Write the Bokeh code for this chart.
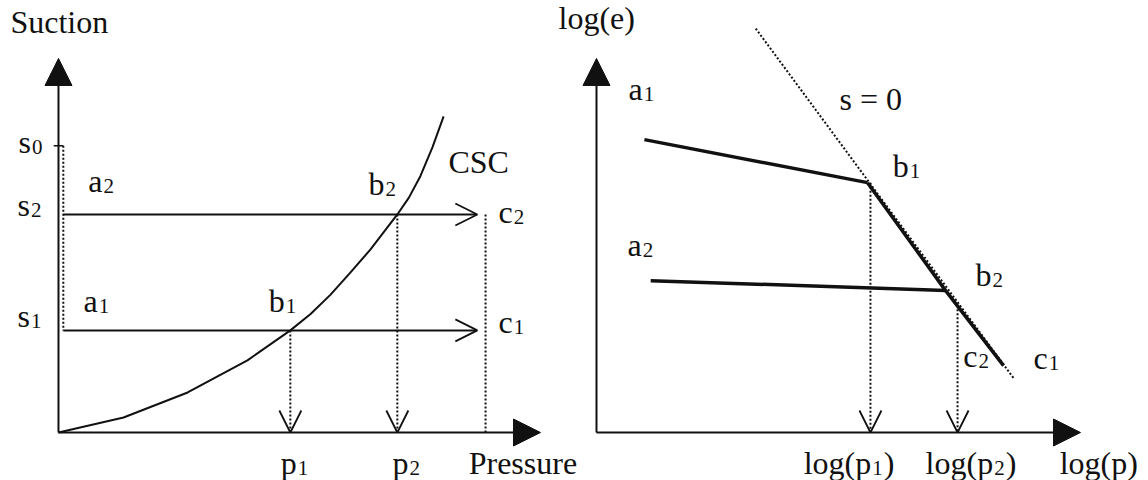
from bokeh.plotting import figure
from bokeh.models import Range1d, Arrow, NormalHead, OpenHead
from bokeh.core.properties import value
from bokeh.embed import file_html
from bokeh.resources import INLINE

FONT = "Liberation Serif"
INK = "#111111"
DOT = "2 2"

# ---------------- left panel: suction vs pressure (arbitrary units, axes 0..100)
pressure_axis_max = 100
suction_axis_max = 100
# collapse state curve (CSC)
csc_pressure = [0, 13.5, 26.8, 39.2, 48.1, 52.3, 56.4, 60.5, 64.7, 70.3, 72.7, 75.1, 77.6, 79.9]
csc_suction = [0, 4.0, 10.7, 19.3, 27.3, 31.7, 36.8, 42.7, 48.9, 58.3, 62.8, 68.6, 76.3, 84.5]
s0, s2, s1 = 76.7, 58.3, 27.3          # suction levels
p1, p2 = 48.1, 70.3                    # yield pressures on the CSC
path_start = 1.0                       # loading paths a -> c
path_end = 86.9
c_line = 88.6                          # final pressure (c1, c2)

# ---------------- right panel: log(e) vs log(p) (arbitrary units, axes 0..100)
logp_axis_max = 100
loge_axis_max = 100
branch1_logp = [9.9, 56.0]             # a1 -> b1
branch1_loge = [78.3, 66.8]
branch2_logp = [11.2, 72.1]            # a2 -> b2
branch2_loge = [40.6, 38.0]
ncl_logp = [56.0, 72.1, 84.1]          # b1 -> b2 -> c1
ncl_loge = [66.8, 38.0, 17.9]
sat_logp = [32.9, 86.2]                # s = 0 line
sat_loge = [108.0, 14.5]
logp_marks = [56.6, 74.6]              # log(p1), log(p2)
logp_mark_tops = [66.8, 34.0]

W, H = 1148, 480
p = figure(width=W, height=H, output_backend="svg", toolbar_location=None,
           x_axis_location=None, y_axis_location=None,
           x_range=Range1d(-12.03, 226.14), y_range=Range1d(-12.83, 115.5),
           min_border=0, outline_line_color=None)
p.extra_x_ranges = {"right": Range1d(-123.14, 114.05)}
p.xgrid.visible = False
p.ygrid.visible = False
p.background_fill_color = "white"
p.border_fill_color = "white"

R = {"x_range_name": "right"}


def arrow(x0, y0, x1, y1, head="open", dash="solid", width=2.0, side=None, size=22):
    if head == "filled":
        h = NormalHead(size=size, fill_color=INK, line_color=INK, line_width=1)
    else:
        h = OpenHead(size=size, line_color=INK, line_width=1.8)
    kw = R if side == "right" else {}
    p.add_layout(Arrow(x_start=x0, y_start=y0, x_end=x1, y_end=y1, end=h,
                       line_color=INK, line_width=width, line_dash=dash, **kw))


# character advance widths (per 1000 em) for subscript placement
ADV = {"l": 278, "o": 500, "g": 500, "(": 333, ")": 333, "p": 500, "s": 389,
       "a": 444, "b": 500, "c": 444, "e": 444, " ": 250, "=": 564}
LIFT = -11  # pixel correction so that y is the text baseline


def tw(s, size):
    return sum(ADV.get(ch, 500) for ch in s) / 1000 * size


def label(x, y, base, sub="", tail="", side=None, size=32, sub_size=21):
    kw = R if side == "right" else {}
    common = dict(text_font=value(FONT), text_color=INK, text_baseline="alphabetic",
                  text_align="left")
    p.text(x=[x], y=[y], text=[base], y_offset=LIFT, text_font_size=f"{size}px",
           **common, **kw)
    if sub:
        off = tw(base, size) + 1
        p.text(x=[x], y=[y], text=[sub], x_offset=off, y_offset=LIFT + 5,
               text_font_size=f"{sub_size}px", **common, **kw)
        if tail:
            off2 = off + tw(sub, sub_size) + 1
            p.text(x=[x], y=[y], text=[tail], x_offset=off2, y_offset=LIFT,
                   text_font_size=f"{size}px", **common, **kw)


# ================= left panel =================
arrow(0, 0, 0, suction_axis_max, head="filled", size=27)
arrow(0, 0, pressure_axis_max, 0, head="filled", size=27)
# s0 tick and the dotted initial state line
p.segment(x0=[-1.0], y0=[s0], x1=[path_start], y1=[s0], line_color=INK, line_width=1.5)
p.line([path_start, path_start], [s0, s1], line_color=INK, line_width=2, line_dash=DOT)
# CSC
p.line(csc_pressure, csc_suction, line_color=INK, line_width=2, line_join="round")
# loading paths at constant suction
for s in (s2, s1):
    arrow(path_start, s, path_end, s, head="open", width=2)
# final pressure line
p.line([c_line, c_line], [s2, 0], line_color=INK, line_width=2, line_dash=DOT)
# yield pressures projected on the pressure axis
arrow(p1, s1, p1, 0, head="open", dash=DOT, width=2)
arrow(p2, s2, p2, 0, head="open", dash=DOT, width=2)

label(-9.96, 106.7, "Suction")
label(-8.3, 74.6, "s", "0")
label(-8.5, 57.8, "s", "2")
label(-8.5, 28.1, "s", "1")
label(6.2, 64.2, "a", "2")
label(5.2, 32.1, "a", "1")
label(43.6, 32.1, "b", "1")
label(64.3, 63.4, "b", "2")
label(80.9, 69.5, "CSC")
label(91.3, 55.9, "c", "2")
label(91.3, 26.7, "c", "1")
label(46.1, -11.0, "p", "1")
label(69.3, -11.0, "p", "2")
label(85.1, -11.0, "Pressure")

# ================= right panel =================
arrow(0, 0, 0, loge_axis_max, head="filled", size=27, side="right")
arrow(0, 0, logp_axis_max, 0, head="filled", size=27, side="right")
p.line(sat_logp, sat_loge, line_color=INK, line_width=2, line_dash=DOT, **R)
p.line(branch1_logp, branch1_loge, line_color=INK, line_width=3.5, line_join="round", **R)
p.line(branch2_logp, branch2_loge, line_color=INK, line_width=3.5, **R)
p.line(ncl_logp, ncl_loge, line_color=INK, line_width=3.5, line_join="round", **R)
for xm, top in zip(logp_marks, logp_mark_tops):
    arrow(xm, top, xm, 0, head="open", dash=DOT, width=2, side="right")

label(-7.85, 108.0, "log(e)", side="right")
label(6.6, 88.8, "a", "1", side="right")
label(50.2, 86.1, "s = 0", side="right")
label(61.2, 68.2, "b", "1", side="right")
label(6.4, 47.3, "a", "2", side="right")
label(78.3, 39.3, "b", "2", side="right")
label(75.8, 17.4, "c", "2", side="right")
label(90.3, 17.1, "c", "1", side="right")
label(42.8, -11.0, "log(p", "1", ")", side="right")
label(68.0, -11.0, "log(p", "2", ")", side="right")
label(95.7, -11.0, "log(p)", side="right")

open("out.html", "w").write(file_html(p, INLINE))
